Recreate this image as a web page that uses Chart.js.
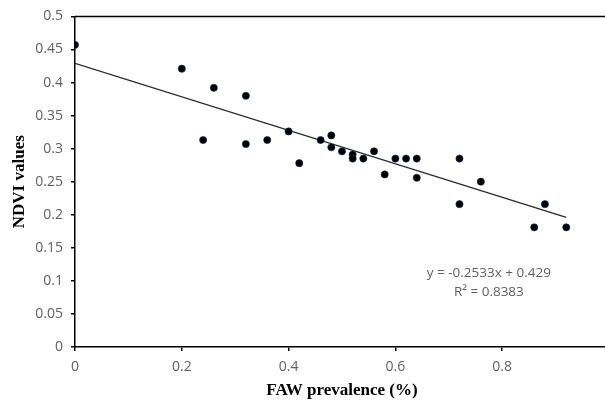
<!DOCTYPE html>
<html>
<head>
<meta charset="utf-8">
<script src="https://cdn.jsdelivr.net/npm/chart.js@4.4.1/dist/chart.umd.min.js"></script>
<style>
  html, body { margin: 0; padding: 0; background: #fff; overflow: hidden; }
  #wrap { width: 625px; height: 403px; }
</style>
</head>
<body>
<div id="wrap"><canvas id="c"></canvas></div>
<script>
// FAW prevalence vs NDVI
const fawPrevalence = [0, 0.2, 0.26, 0.32, 0.24, 0.32, 0.36, 0.40, 0.42, 0.46,
  0.48, 0.48, 0.50, 0.52, 0.52, 0.54, 0.56, 0.58, 0.60, 0.62,
  0.64, 0.64, 0.72, 0.72, 0.76, 0.86, 0.88, 0.92]
const ndviValues = [0.457, 0.421, 0.392, 0.380, 0.313, 0.307, 0.313, 0.326, 0.278, 0.313,
  0.320, 0.302, 0.296, 0.291, 0.285, 0.285, 0.296, 0.261, 0.285, 0.285,
  0.285, 0.256, 0.285, 0.216, 0.250, 0.181, 0.216, 0.181]

// linear trend line endpoints (y = -0.2533x + 0.429)
const trendX = [0, 0.92]
const trendY = [0.429, 0.196]
const equationLines = ["y = -0.2533x + 0.429", "R² = 0.8383"]

const GREY = "#5f5f5f"
const tickFont = { family: "'Open Sans', sans-serif", size: 14 }
const titleFont = { family: "'Liberation Serif', 'Times New Roman', serif", size: 17, weight: "bold" }
const fmt = v => String(+v.toFixed(2))

const frameTop = {
  id: "frameTop",
  afterDraw(chart) {
    const { ctx, chartArea: a } = chart
    ctx.save()
    ctx.strokeStyle = "#000"
    ctx.lineWidth = 1.5
    ctx.beginPath()
    ctx.moveTo(a.left, a.top)
    ctx.lineTo(a.right, a.top)
    ctx.stroke()
    ctx.restore()
  }
}

const equationLabel = {
  id: "equationLabel",
  afterDraw(chart) {
    const { ctx, scales } = chart
    const x = scales.x.getPixelForValue(0.775)
    const y = scales.y.getPixelForValue(0.112)
    ctx.save()
    ctx.fillStyle = GREY
    ctx.font = "13.5px 'Open Sans', sans-serif"
    ctx.textAlign = "center"
    ctx.textBaseline = "middle"
    equationLines.forEach((t, i) => ctx.fillText(t, x, y + i * 19))
    ctx.restore()
  }
}

new Chart(document.getElementById("c"), {
  type: "scatter",
  data: {
    datasets: [
      {
        label: "NDVI",
        data: fawPrevalence.map((x, i) => ({ x, y: ndviValues[i] })),
        backgroundColor: "#000",
        borderColor: "#1d2f50",
        borderWidth: 0.6,
        pointRadius: 3.6
      },
      {
        type: "line",
        label: "Linear",
        data: trendX.map((x, i) => ({ x, y: trendY[i] })),
        borderColor: "#2a2a2a",
        borderWidth: 1.4,
        pointRadius: 0,
        fill: false
      }
    ]
  },
  options: {
    responsive: true,
    maintainAspectRatio: false,
    animation: false,
    layout: { padding: { top: 16, right: 16, left: 0, bottom: 0 } },
    plugins: { legend: { display: false }, tooltip: { enabled: false } },
    scales: {
      x: {
        type: "linear",
        min: 0, max: 1,
        ticks: { stepSize: 0.2, color: GREY, font: tickFont, padding: 8, callback: fmt },
        grid: { drawOnChartArea: false, drawTicks: true, tickLength: 4, color: "#000", lineWidth: 1.5 },
        border: { display: true, color: "#000", width: 1.5 },
        title: { display: true, text: "FAW prevalence (%)", color: "#000", font: titleFont, padding: { top: 0, bottom: 2 } },
        afterFit: s => { s.height = 56 }
      },
      y: {
        min: 0, max: 0.5,
        ticks: { stepSize: 0.05, color: GREY, font: tickFont, padding: 8, callback: fmt },
        grid: { drawOnChartArea: false, drawTicks: true, tickLength: 4, color: "#000", lineWidth: 1.5 },
        border: { display: true, color: "#000", width: 1.5 },
        title: { display: true, text: "NDVI values", color: "#000", font: titleFont, padding: { top: 9, bottom: 0 } },
        afterFit: s => { s.width = 75 }
      }
    }
  },
  plugins: [frameTop, equationLabel]
})
</script>
</body>
</html>
